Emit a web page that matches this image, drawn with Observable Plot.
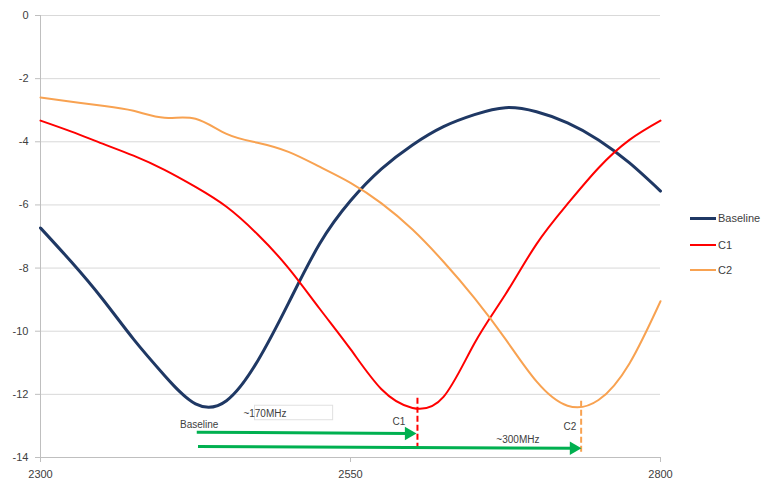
<!DOCTYPE html>
<html>
<head>
<meta charset="utf-8">
<script src="https://cdn.jsdelivr.net/npm/d3@7"></script>
<script src="https://cdn.jsdelivr.net/npm/@observablehq/plot@0.6"></script>
<style>
  html, body { margin: 0; padding: 0; background: #fff; }
  #wrap { position: relative; width: 761px; height: 485px; overflow: hidden; font-family: "Liberation Sans", Arial, sans-serif; }
  #legend { position: absolute; left: 690px; top: 212px; font-size: 11px; color: #404040; }
  .item { position: absolute; left: 0; white-space: nowrap; display: flex; align-items: center; }
  .swatch { display: inline-block; width: 26px; margin-right: 2px; }
</style>
</head>
<body>
<div id="wrap"><div id="legend"></div></div>
<script>
// Frequencies (MHz) shared by all series
const freq = [2300, 2325, 2350, 2375, 2400, 2425, 2450, 2475, 2500, 2525, 2550, 2575, 2600, 2625, 2650, 2675, 2700, 2725, 2750, 2775, 2800];
// Values (dB)
const baselineVal = [-6.73, -7.81, -8.98, -10.25, -11.40, -12.30, -12.20, -10.95, -9.11, -7.24, -5.87, -4.86, -4.10, -3.52, -3.14, -2.92, -3.05, -3.40, -3.94, -4.67, -5.56];
const c1Val       = [-3.33, -3.68, -4.06, -4.44, -4.89, -5.43, -6.06, -6.93, -8.00, -9.28, -10.57, -11.84, -12.43, -12.08, -10.38, -8.83, -7.24, -5.97, -4.83, -3.94, -3.33];
const c2Val       = [-2.60, -2.73, -2.86, -3.02, -3.24, -3.27, -3.75, -4.03, -4.32, -4.79, -5.30, -5.95, -6.78, -7.80, -8.95, -10.25, -11.59, -12.36, -12.18, -11.02, -9.05];

const seriesNames  = ["Baseline", "C1", "C2"];
const seriesColors = ["#1F3864", "#FF0000", "#F8A251"];

const xTicks = [2300, 2550, 2800];
const yTicks = [0, -2, -4, -6, -8, -10, -12, -14];

// Annotations (data units)
const markerLines = [
  {f: 2604, y1: -12.12, y2: -13.82, color: "#FF0000"},
  {f: 2736, y1: -12.22, y2: -13.9, color: "#F8A251"}
];
const arrows = [
  {f1: 2426, v1: -13.20, f2: 2597, v2: -13.24},
  {f1: 2427, v1: -13.65, f2: 2730, v2: -13.71}
];
const labels = [
  {f: 2428, v: -12.95, text: "Baseline", anchor: "middle"},
  {f: 2481, v: -12.60, text: "~170MHz", anchor: "start"},
  {f: 2589, v: -12.86, text: "C1", anchor: "middle"},
  {f: 2727, v: -13.02, text: "C2", anchor: "middle"},
  {f: 2685, v: -13.43, text: "~300MHz", anchor: "middle"}
];
const boxes = [{f1: 2473, f2: 2536, v1: -12.36, v2: -12.82}];

const seriesVals = [baselineVal, c1Val, c2Val];
const seriesData = seriesVals.map(vs => freq.map((f, i) => ({f, v: vs[i]})));
const widths = [3, 2, 2];

const plot = Plot.plot({
  width: 761,
  height: 485,
  marginLeft: 40,
  marginRight: 101,
  marginTop: 15,
  marginBottom: 28,
  style: {fontFamily: "Liberation Sans, Arial, sans-serif", fontSize: "11px", background: "white", color: "#595959"},
  x: {domain: [2300, 2800]},
  y: {domain: [-14, 0]},
  marks: [
    Plot.gridY(yTicks, {stroke: "#D9D9D9", strokeOpacity: 1, strokeWidth: 1}),
    Plot.ruleY([-14], {stroke: "#BFBFBF", strokeWidth: 1}),
    Plot.ruleX([2300], {stroke: "#BFBFBF", strokeWidth: 1}),
    Plot.axisY({ticks: yTicks, tickSize: 5, tickPadding: 7, stroke: "#BFBFBF", fill: "#404040", tickFormat: d => String(d), label: null}),
    Plot.axisX({ticks: xTicks, tickSize: 5, tickPadding: 8, stroke: "#BFBFBF", fill: "#404040", tickFormat: d => String(d), label: null}),
    ...seriesData.map((d, i) => Plot.line(d, {x: "f", y: "v", stroke: seriesColors[i], strokeWidth: widths[i], curve: "natural"})),
    Plot.rect(boxes, {x1: "f1", x2: "f2", y1: "v1", y2: "v2", fill: "white", stroke: "#E0E0E0"}),
    Plot.ruleX(markerLines, {x: "f", y1: "y1", y2: "y2", stroke: "color", strokeWidth: 2, strokeDasharray: "6,3"}),
    Plot.link(arrows, {x1: "f1", y1: "v1", x2: "f2", y2: "v2", stroke: "#00B050", strokeWidth: 3}),
    Plot.dot(arrows, {x: "f2", y: "v2", symbol: "triangle", fill: "#00B050", stroke: "none", r: 5, rotate: 90}),
    Plot.text(labels, {x: "f", y: "v", text: "text", textAnchor: "anchor", fill: "#404040", fontSize: 10})
  ]
});
const wrap = document.getElementById("wrap");
wrap.insertBefore(plot, wrap.firstChild);

const legend = document.getElementById("legend");
const tops = [0, 27, 52];
seriesNames.forEach((name, i) => {
  const item = document.createElement("div");
  item.className = "item";
  item.style.top = tops[i] + "px";
  const sw = document.createElement("span");
  sw.className = "swatch";
  sw.style.height = (i === 0 ? 3 : 2) + "px";
  sw.style.background = seriesColors[i];
  item.appendChild(sw);
  item.appendChild(document.createTextNode(name));
  legend.appendChild(item);
});
</script>
</body>
</html>
